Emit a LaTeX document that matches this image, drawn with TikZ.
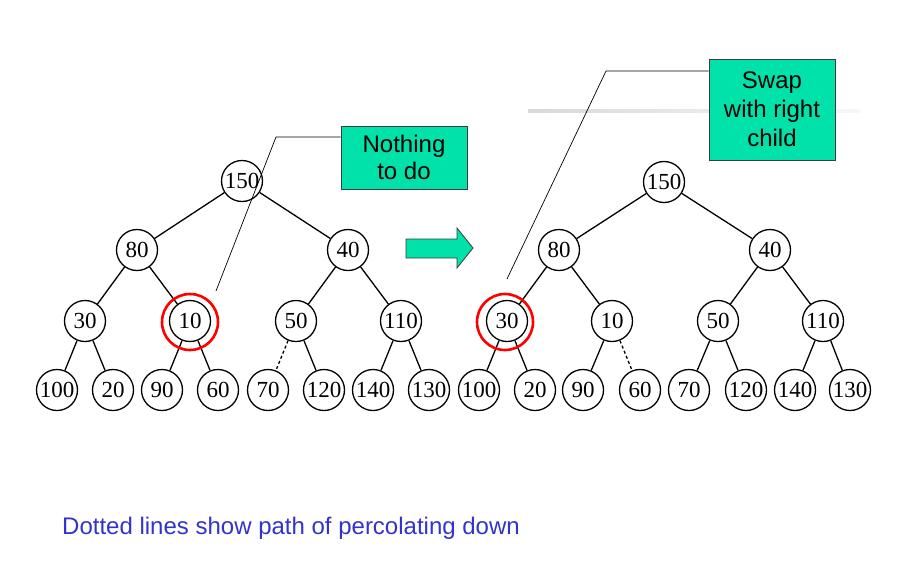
\documentclass[tikz,border=0pt]{standalone}
\usepackage{fontspec}
\setmainfont{Liberation Serif}
\newfontfamily\notefont{Liberation Sans}
\definecolor{notegreen}{RGB}{0,226,170}
\definecolor{noteblue}{RGB}{51,51,204}
\definecolor{edgegray}{RGB}{60,60,60}
\begin{document}
\begin{tikzpicture}[x=1pt,y=-1pt,
  key/.style={draw,circle,line width=1.3pt,minimum size=41pt,inner sep=0pt,
    font=\fontsize{23}{23}\selectfont},
  link/.style={line width=1.3pt},
  pathlink/.style={link,dash pattern=on 3pt off 2.5pt},
  mark ring/.style={draw=red,line width=2.6pt,circle,minimum size=56pt,inner sep=0pt},
  note/.style={draw=edgegray,line width=0.9pt,fill=notegreen,inner sep=0pt,
    align=center},
  leader/.style={line width=0.7pt}]
\useasboundingbox (0,0) rectangle (903,574);

% faint rule behind the second note
\shade[left color=gray!30,right color=gray!6] (528,109.5) rectangle (860,112.5);

% ---------- heap before the step ----------
\node[key] (a150) at (242,181) {150};
\node[key] (a80)  at (137,250) {80};
\node[key] (a40)  at (348,250) {40};
\node[key] (a30)  at (85,321)  {30};
\node[key] (a10)  at (190,321) {10};
\node[key] (a50)  at (296,321) {50};
\node[key] (a110) at (401,321) {110};
\node[key] (a100) at (57,390)  {100};
\node[key] (a20)  at (113,390) {20};
\node[key] (a90)  at (162,390) {90};
\node[key] (a60)  at (218,390) {60};
\node[key] (a70)  at (268,390) {70};
\node[key] (a120) at (324,390) {120};
\node[key] (a140) at (373,390) {140};
\node[key] (a130) at (429,390) {130};
\draw[link] (a150) -- (a80);  \draw[link] (a150) -- (a40);
\draw[link] (a80) -- (a30);   \draw[link] (a80) -- (a10);
\draw[link] (a40) -- (a50);   \draw[link] (a40) -- (a110);
\draw[link] (a30) -- (a100);  \draw[link] (a30) -- (a20);
\draw[link] (a10) -- (a90);   \draw[link] (a10) -- (a60);
\draw[pathlink] (a50) -- (a70); \draw[link] (a50) -- (a120);
\draw[link] (a110) -- (a140); \draw[link] (a110) -- (a130);
\node[mark ring] (ringa) at (190,322) {};

% note for the first heap
\node[note,minimum width=126pt,minimum height=63pt,
  font=\notefont\fontsize{24}{27}\selectfont] (notea) at (404,157.5)
  {Nothing\\to do};
\coordinate (benda) at (276,137);
\coordinate (tipa) at (216,291);
\draw[leader] (notea.west |- benda) -- (benda) -- (tipa);

% step arrow
\draw[draw=edgegray,line width=0.8pt,fill=notegreen]
  (406,239) -- (457,239) -- (457,228) -- (473,248) -- (457,268)
  -- (457,258) -- (406,258) -- cycle;

% ---------- heap after the step ----------
\node[key] (b150) at (664,182) {150};
\node[key] (b80)  at (559,250) {80};
\node[key] (b40)  at (770,250) {40};
\node[key] (b30)  at (507,321) {30};
\node[key] (b10)  at (612,321) {10};
\node[key] (b50)  at (718,321) {50};
\node[key] (b110) at (823,321) {110};
\node[key] (b100) at (479,390) {100};
\node[key] (b20)  at (535,390) {20};
\node[key] (b90)  at (583,390) {90};
\node[key] (b60)  at (640,390) {60};
\node[key] (b70)  at (689,390) {70};
\node[key] (b120) at (746,390) {120};
\node[key] (b140) at (795,390) {140};
\node[key] (b130) at (850,390) {130};
\draw[link] (b150) -- (b80);  \draw[link] (b150) -- (b40);
\draw[link] (b80) -- (b30);   \draw[link] (b80) -- (b10);
\draw[link] (b40) -- (b50);   \draw[link] (b40) -- (b110);
\draw[link] (b30) -- (b100);  \draw[link] (b30) -- (b20);
\draw[link] (b10) -- (b90);   \draw[pathlink] (b10) -- (b60);
\draw[link] (b50) -- (b70);   \draw[link] (b50) -- (b120);
\draw[link] (b110) -- (b140); \draw[link] (b110) -- (b130);
\node[mark ring] (ringb) at (505,322) {};

% note for the second heap
\node[note,minimum width=126pt,minimum height=101pt,
  font=\notefont\fontsize{24}{29}\selectfont] (noteb) at (772,109.5)
  {Swap\\with right\\child};
\coordinate (bendb) at (606,71);
\coordinate (tipb) at (507,279);
\draw[leader] (noteb.west |- bendb) -- (bendb) -- (tipb);

% caption
\node[anchor=base west,text=noteblue,inner sep=0pt,
  font=\notefont\fontsize{24}{28}\selectfont] (caption) at (62,534)
  {Dotted lines show path of percolating down};
\end{tikzpicture}
\end{document}
